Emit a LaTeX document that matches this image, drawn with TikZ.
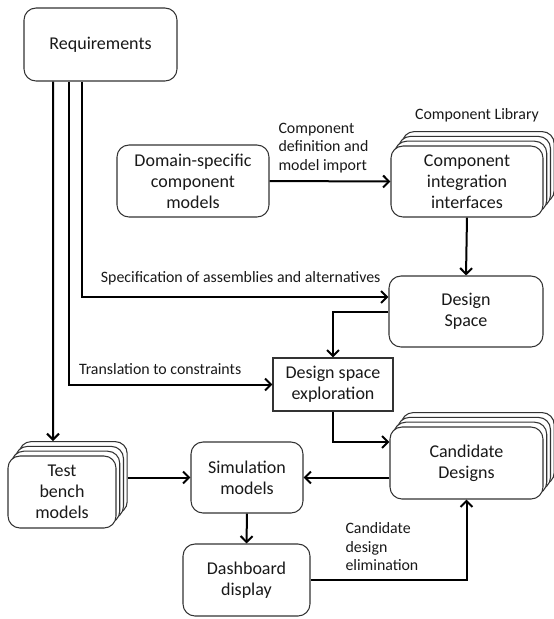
\documentclass[tikz,border=0pt]{standalone}
\usepackage{fontspec}
\setmainfont{Carlito}
\usetikzlibrary{arrows.meta,shadows}
\begin{document}
\begin{tikzpicture}[x=0.75pt,y=-0.75pt]
    \tikzset{% This is the style settings for nodes
    blk/.style={rounded corners=9pt,draw=black!80,line width=0.8pt,fill=white,align=center,
        text=black!90,font=\fontsize{13.5}{15.8}\selectfont,inner sep=0pt},
    sz/.style 2 args={minimum width=#1,minimum height=#2},
    stack/.style={blk,
        copy shadow={shadow xshift=8.4pt,shadow yshift=10.8pt,draw=black!80,line width=0.8pt},
        copy shadow={shadow xshift=5.6pt,shadow yshift=7.2pt,draw=black!80,line width=0.8pt},
        copy shadow={shadow xshift=2.8pt,shadow yshift=3.6pt,draw=black!80,line width=0.8pt}},
    sq/.style={blk,rounded corners=0pt},
    lbl/.style={font=\fontsize{11.9}{13.9}\selectfont,align=left,inner sep=0pt,text=black!90},
    c1/.style={line width=1.5pt,-{Straight Barb[length=4.5pt,width=9pt]}},
    }
    \useasboundingbox (0,0) rectangle (554,619);
    % Nodes
    \node[blk,sz={114.75pt}{54.75pt}] (req) at (100.5,44.5) {Requirements};
    \node[blk,sz={114pt}{54pt}] (dom) at (193,181) {Domain-specific\\component\\models};
    \node[stack,sz={114pt}{53.25pt}] (cii) at (467,181.5) {Component\\integration\\interfaces};
    \node[lbl] (lib) at (477,115) {Component Library};
    \node[blk,sz={115.5pt}{53.25pt}] (dsp) at (466,311.5) {Design\\Space};
    \node[sq,sz={90pt}{39.75pt}] (dse) at (333,384.5) {Design space\\exploration};
    \node[stack,sz={114.75pt}{54pt}] (cand) at (466.5,463) {Candidate\\Designs};
    \node[stack,sz={81pt}{54pt}] (tb) at (62,492) {Test\\bench\\models};
    \node[blk,sz={84pt}{53.25pt}] (sim) at (247,477.5) {Simulation\\models};
    \node[blk,sz={95.25pt}{54pt}] (dash) at (246.5,580) {Dashboard\\display};

    %Edges
    \draw[c1] ([xshift=-35.6pt]req.south) -- ([xshift=-6.75pt,yshift=10.8pt]tb.north);
    \draw[c1] ([xshift=-23.6pt]req.south) |- node[lbl,pos=0.5,anchor=base west,xshift=6.75pt,yshift=7.5pt] {Translation to constraints} (dse.west);
    \draw[c1] ([xshift=-13.9pt]req.south) |- node[lbl,pos=0.5,anchor=base west,xshift=13.5pt,yshift=10.5pt] {Specification of assemblies and alternatives} ([yshift=10.9pt]dsp.west);
    \draw[c1] (dom.east) -- node[lbl,pos=0,anchor=south west,xshift=6pt,yshift=5.25pt] {Component\\definition and\\model import} (cii.west);
    \draw[c1] (cii.south) -- (dsp.north);
    \draw[c1] (dsp.west) -| (dse.north);
    \draw[c1] (dse.south) |- ([yshift=15.75pt]cand.west);
    \draw[c1] (cand.west |- sim.east) -- (sim.east);
    \draw[c1] ([xshift=8.4pt]tb.east |- sim.west) -- (sim.west);
    \draw[c1] (sim.south) -- (dash.north);
    \draw[c1] (dash.east) -| node[lbl,pos=0,anchor=south west,xshift=25.5pt,yshift=6pt] {Candidate\\design\\elimination} (cand.south);
\end{tikzpicture}
\end{document}
